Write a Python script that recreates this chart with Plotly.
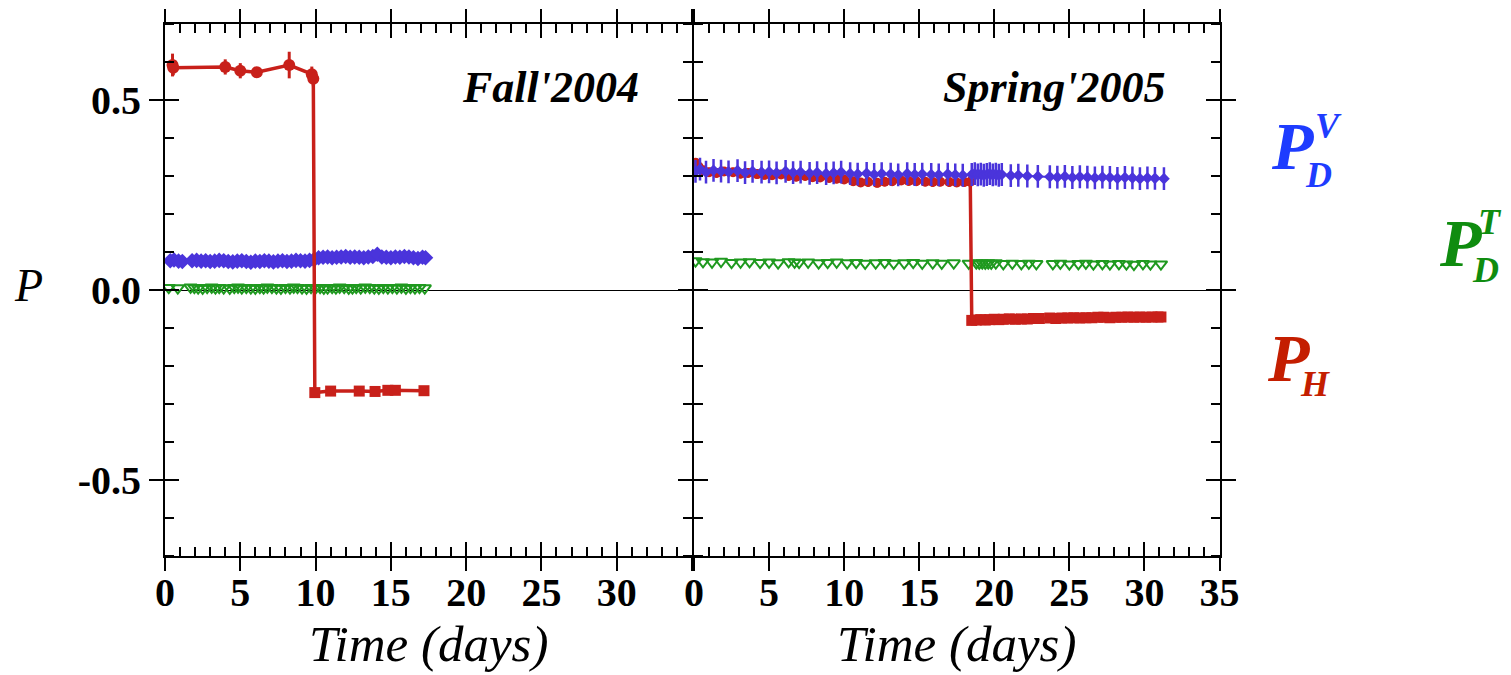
import plotly.graph_objects as go

# ---------------- data ----------------
# Fall 2004 panel
fall_ph_hi_x = [0.5, 0.55, 4.0, 5.0, 6.1, 8.25, 9.75, 9.85]
fall_ph_hi_y = [0.592, 0.585, 0.587, 0.577, 0.573, 0.592, 0.568, 0.556]
fall_ph_hi_err = [0.03, 0.02, 0.02, 0.02, 0.012, 0.035, 0.02, 0.02]
fall_ph_lo_x = [9.95, 11.0, 12.9, 13.95, 14.8, 15.3, 17.2]
fall_ph_lo_y = [-0.27, -0.266, -0.266, -0.267, -0.264, -0.264, -0.265]

fall_pdv_x = [0.35, 0.6, 0.9, 1.15,
              1.8, 2.1, 2.4, 2.7, 3.0, 3.3, 3.6, 3.9, 4.2, 4.5, 4.8, 5.1, 5.4, 5.7,
              6.0, 6.3, 6.6, 6.9, 7.2, 7.5, 7.8, 8.1, 8.4, 8.7, 9.0, 9.3, 9.6, 9.9,
              10.2, 10.5, 10.8, 11.1, 11.4, 11.7, 12.0, 12.3, 12.6, 12.9, 13.2, 13.5,
              13.8, 14.1, 14.4, 14.7, 15.0, 15.3, 15.6, 15.9, 16.2, 16.5, 16.8, 17.1,
              17.3]
fall_pdv_y = [0.077, 0.079, 0.076, 0.075,
              0.077, 0.078, 0.076, 0.077, 0.075, 0.076, 0.078, 0.077, 0.075, 0.074,
              0.076, 0.077, 0.075, 0.073, 0.076, 0.075, 0.077, 0.076, 0.074, 0.076,
              0.077, 0.075, 0.076, 0.078, 0.077, 0.076, 0.078, 0.080,
              0.085, 0.086, 0.087, 0.085, 0.086, 0.087, 0.088, 0.086, 0.087, 0.086,
              0.085, 0.087, 0.088, 0.094, 0.087, 0.086, 0.085, 0.087, 0.086, 0.088,
              0.087, 0.085, 0.083, 0.086,
              0.085]

fall_pdt_x = [0.25, 0.85, 1.7, 1.95, 2.2, 2.5, 2.8, 3.1, 3.35, 3.6, 3.9, 4.3, 4.6,
              4.85, 5.1, 5.4, 5.7, 6.0, 6.3, 6.55, 6.8, 7.1, 7.4, 7.7, 8.0, 8.3,
              8.55, 8.8, 9.1, 9.4, 9.7, 10.0, 10.3, 10.55, 10.8, 11.1, 11.35, 11.6,
              11.9, 12.2, 12.45, 12.7, 13.0, 13.3, 13.6, 13.9, 14.2, 14.5, 14.8,
              15.1, 15.4, 15.7, 16.0, 16.3, 16.6, 16.9, 17.25]
fall_pdt_y = [0.006, 0.005, 0.007, 0.006, 0.005, 0.004, 0.006, 0.007, 0.005, 0.006,
              0.005, 0.004, 0.006, 0.007, 0.005, 0.006, 0.005, 0.004, 0.006, 0.005,
              0.007, 0.006, 0.005, 0.004, 0.006, 0.005, 0.007, 0.006, 0.005, 0.004,
              0.006, 0.005, 0.006, 0.004, 0.005, 0.006, 0.005, 0.007, 0.006, 0.004,
              0.005, 0.006, 0.005, 0.007, 0.006, 0.005, 0.004, 0.006, 0.005, 0.006,
              0.005, 0.007, 0.004, 0.006, 0.005, 0.006, 0.005]

# Spring 2005 panel
spr_ph_hi_x = [0.1, 0.3, 0.6, 1.0, 1.5, 2.0, 2.6, 3.1, 3.6, 4.2, 4.7, 5.2, 5.8, 6.3,
               6.8, 7.4, 7.9, 8.4, 9.0, 9.5, 10.0, 10.6, 11.1, 11.6, 12.2, 12.7,
               13.2, 13.8, 14.3, 14.8, 15.4, 15.9, 16.4, 17.0, 17.5, 18.0, 18.4]
spr_ph_hi_y = [0.335, 0.325, 0.315, 0.31, 0.308, 0.312, 0.31, 0.306, 0.308, 0.305,
               0.303, 0.302, 0.304, 0.30, 0.298, 0.30, 0.297, 0.296, 0.295, 0.293,
               0.291, 0.286, 0.283, 0.284, 0.282, 0.285, 0.286, 0.288, 0.287, 0.286,
               0.285, 0.284, 0.285, 0.284, 0.283, 0.284, 0.285]
spr_ph_lo_x = [18.5, 18.8, 19.1, 19.4, 19.7, 20.0, 20.3, 20.6, 21.0, 21.4, 21.8, 22.2,
               22.6, 23.0, 23.7, 24.1, 24.5, 24.9, 25.3, 25.7, 26.1, 26.5, 26.9,
               27.3, 27.7, 28.1, 28.5, 28.9, 29.3, 29.7, 30.1, 30.5, 30.9, 31.1]
spr_ph_lo_y = [-0.08, -0.079, -0.078, -0.079, -0.078, -0.077, -0.078, -0.077, -0.076,
               -0.077, -0.076, -0.076, -0.075, -0.075, -0.074, -0.075, -0.074, -0.074,
               -0.073, -0.074, -0.073, -0.073, -0.072, -0.072, -0.073, -0.072, -0.072,
               -0.071, -0.072, -0.071, -0.072, -0.071, -0.071, -0.071]

spr_pdv_x = [0.1, 0.4, 0.8, 1.3, 1.8, 2.3, 2.9, 3.4, 3.9, 4.5, 5.0, 5.5, 6.1, 6.6,
             7.1, 7.7, 8.2, 8.8, 9.3, 9.8, 10.4, 10.9, 11.5, 12.0, 12.5, 13.1, 13.6,
             14.2, 14.7, 15.2, 15.8, 16.3, 16.9, 17.4, 17.9, 18.5, 18.7, 18.9, 19.1,
             19.3, 19.5, 19.7, 19.9, 20.1, 20.3, 20.5, 21.1, 21.6, 22.2, 22.9, 23.7,
             24.2, 24.7, 25.2, 25.7, 26.2, 26.7, 27.2, 27.7, 28.2, 28.7, 29.2, 29.7,
             30.2, 30.7, 31.3]
spr_pdv_y = [0.312, 0.318, 0.310, 0.315, 0.313, 0.311, 0.314, 0.309, 0.312, 0.310,
             0.311, 0.308, 0.312, 0.309, 0.310, 0.307, 0.309, 0.306, 0.308, 0.310,
             0.306, 0.305, 0.307, 0.304, 0.306, 0.305, 0.303, 0.306, 0.304, 0.305,
             0.304, 0.303, 0.305, 0.303, 0.302, 0.304, 0.306, 0.303, 0.305, 0.302,
             0.304, 0.306, 0.303, 0.305, 0.302, 0.304, 0.301, 0.302, 0.300, 0.299,
             0.298, 0.297, 0.299, 0.296, 0.298, 0.297, 0.295, 0.297, 0.296, 0.294,
             0.296, 0.295, 0.293, 0.295, 0.294, 0.293]

spr_pdt_x = [0.1, 0.6, 1.2, 1.8, 2.5, 3.1, 3.7, 4.4, 5.0, 5.6, 6.3, 6.7, 7.0, 7.6,
             8.3, 8.9, 9.5, 10.2, 10.8, 11.4, 12.1, 12.7, 13.3, 14.0, 14.6, 15.2,
             15.9, 16.5, 17.3, 18.3, 18.8, 19.0, 19.2, 19.4, 19.6, 19.8, 20.1, 20.6,
             21.2, 21.8, 22.3, 22.8, 23.9, 24.4, 25.0, 25.6, 26.1, 26.6, 27.2, 27.7,
             28.3, 28.8, 29.3, 29.9, 30.4, 31.1]
spr_pdt_y = [0.076, 0.074, 0.073, 0.075, 0.072, 0.073, 0.074, 0.072, 0.073, 0.071,
             0.074, 0.073, 0.072, 0.073, 0.071, 0.072, 0.073, 0.071, 0.072, 0.070,
             0.071, 0.072, 0.070, 0.071, 0.072, 0.070, 0.071, 0.070, 0.071, 0.070,
             0.071, 0.070, 0.071, 0.070, 0.071, 0.070, 0.071, 0.069, 0.070, 0.069,
             0.070, 0.069, 0.069, 0.070, 0.068, 0.069, 0.070, 0.068, 0.069, 0.068,
             0.069, 0.068, 0.067, 0.069, 0.068, 0.068]

x_major = [0, 5, 10, 15, 20, 25, 30, 35]
x_left_text = ["0", "5", "10", "15", "20", "25", "30", ""]
x_right_text = ["0", "5", "10", "15", "20", "25", "30", "35"]
y_major = [-0.5, 0.0, 0.5]
y_text = ["-0.5", "0.0", "0.5"]
panel_titles = ["Fall'2004", "Spring'2005"]

# ---------------- styling ----------------
W, H = 1511, 675
RED = "#c8201a"
BLUE = "#4a34db"
GREEN = "#1f991f"
SERIF = "Liberation Serif"


def px(v):
    return v / W


def py(v):
    return 1 - v / H


XL = [px(165), px(692)]
XR = [px(694), px(1219.5)]
YD = [py(556), py(24)]

fig = go.Figure()


def add_panel(xa, ya, pdt_x, pdt_y, pdv_x, pdv_y, pdv_err, pdv_size,
              hi_x, hi_y, hi_err, hi_sym, hi_size, lo_x, lo_y, lo_err, blue_on_top):
    fig.add_trace(go.Scatter(
        x=pdt_x, y=pdt_y, mode="markers", xaxis=xa, yaxis=ya,
        marker=dict(symbol="triangle-down-open", size=11, color=GREEN,
                    line=dict(width=2, color=GREEN))))

    def blue():
        fig.add_trace(go.Scatter(
            x=pdv_x, y=pdv_y, mode="lines+markers", xaxis=xa, yaxis=ya,
            line=dict(color=BLUE, width=2),
            marker=dict(symbol="diamond", size=pdv_size, color=BLUE),
            error_y=dict(type="constant", value=pdv_err, color=BLUE,
                         thickness=2.5, width=0)))

    if not blue_on_top:
        blue()
    fig.add_trace(go.Scatter(
        x=hi_x + lo_x, y=hi_y + lo_y, mode="lines", xaxis=xa, yaxis=ya,
        line=dict(color=RED, width=3.5)))
    fig.add_trace(go.Scatter(
        x=hi_x, y=hi_y, mode="markers", xaxis=xa, yaxis=ya,
        marker=dict(symbol=hi_sym, size=hi_size, color=RED),
        error_y=dict(type="data", array=hi_err, color=RED, thickness=3, width=0)))
    fig.add_trace(go.Scatter(
        x=lo_x, y=lo_y, mode="markers", xaxis=xa, yaxis=ya,
        marker=dict(symbol="square", size=11, color=RED),
        error_y=dict(type="constant", value=lo_err, color=RED, thickness=3, width=0)))
    if blue_on_top:
        blue()


add_panel("x", "y", fall_pdt_x, fall_pdt_y, fall_pdv_x, fall_pdv_y, 0.008, 12,
          fall_ph_hi_x, fall_ph_hi_y, fall_ph_hi_err, "circle", 12,
          fall_ph_lo_x, fall_ph_lo_y, 0.006, False)
add_panel("x2", "y2", spr_pdt_x, spr_pdt_y, spr_pdv_x, spr_pdv_y, 0.03, 9,
          spr_ph_hi_x, spr_ph_hi_y, [0.012] * len(spr_ph_hi_x), "circle", 10,
          spr_ph_lo_x, spr_ph_lo_y, 0.008, True)

# empty traces to activate overlay subplots (other halves of major ticks)
fig.add_trace(go.Scatter(x=[None], y=[None], xaxis="x3", yaxis="y3"))
fig.add_trace(go.Scatter(x=[None], y=[None], xaxis="x4", yaxis="y4"))

tickfont = dict(family=SERIF, size=40, color="black", weight="bold")
minor_x = dict(tickmode="linear", tick0=0, dtick=1, ticks="inside", ticklen=9,
               tickwidth=1.6, tickcolor="black")
minor_y = dict(tickmode="linear", tick0=0, dtick=0.1, ticks="inside", ticklen=9,
               tickwidth=1.6, tickcolor="black")
common = dict(showgrid=False, showline=True, linewidth=2, linecolor="black",
              ticklen=14, tickwidth=2, tickcolor="black", automargin=False,
              mirror="ticks", tickfont=tickfont)
over = dict(showgrid=False, showline=False, zeroline=False, automargin=False,
            ticklen=14, tickwidth=2, tickcolor="black", mirror="ticks",
            showticklabels=False)

fig.update_layout(
    width=W, height=H, margin=dict(l=0, r=0, t=0, b=0, autoexpand=False),
    paper_bgcolor="white", plot_bgcolor="rgba(0,0,0,0)", showlegend=False,
    # x axes carry labels with inside ticks; overlays add the outside halves
    xaxis=dict(domain=XL, range=[0, 35], anchor="y", tickmode="array",
               tickvals=x_major, ticktext=x_left_text, minor=minor_x,
               ticks="inside", zeroline=False, **common),
    xaxis2=dict(domain=XR, range=[0, 35], anchor="y2", tickmode="array",
                tickvals=x_major, ticktext=x_right_text, minor=minor_x,
                ticks="inside", zeroline=False, **common),
    # y axes carry labels with outside ticks; overlays add the inside halves
    yaxis=dict(domain=YD, range=[-0.7, 0.7], anchor="x", tickmode="array",
               tickvals=y_major, ticktext=y_text, minor=minor_y, ticks="outside",
               zeroline=True, zerolinecolor="black", zerolinewidth=1.2, **common),
    yaxis2=dict(domain=YD, range=[-0.7, 0.7], anchor="x2", tickmode="array",
                tickvals=y_major, ticktext=y_text, minor=minor_y, ticks="outside",
                showticklabels=False,
                zeroline=True, zerolinecolor="black", zerolinewidth=1.2, **common),
    xaxis3=dict(domain=XL, range=[0, 35], anchor="y3", overlaying="x",
                tickmode="array", tickvals=x_major, ticks="outside", **over),
    yaxis3=dict(domain=YD, range=[-0.7, 0.7], anchor="x3", overlaying="y",
                tickmode="array", tickvals=y_major, ticks="inside", **over),
    xaxis4=dict(domain=XR, range=[0, 35], anchor="y4", overlaying="x2",
                tickmode="array", tickvals=x_major, ticks="outside", **over),
    yaxis4=dict(domain=YD, range=[-0.7, 0.7], anchor="x4", overlaying="y2",
                tickmode="array", tickvals=y_major, ticks="inside", **over),
)

ann = []
title_font = dict(family=SERIF, size=51, color="black", style="italic")
ann.append(dict(text="Time (days)", x=px(428.5), y=py(644), xref="paper", yref="paper",
                xanchor="center", yanchor="middle", showarrow=False, font=title_font))
ann.append(dict(text="Time (days)", x=px(956), y=py(644), xref="paper", yref="paper",
                xanchor="center", yanchor="middle", showarrow=False, font=title_font))
ann.append(dict(text="P", x=px(28), y=py(285), xref="paper", yref="paper",
                xanchor="center", yanchor="middle", showarrow=False,
                font=dict(family=SERIF, size=46, color="black", style="italic")))
pfont = dict(family=SERIF, size=44, color="black", style="italic", weight="bold")
ann.append(dict(text=panel_titles[0], x=px(641), y=py(88), xref="paper", yref="paper",
                xanchor="right", yanchor="middle", showarrow=False, font=pfont))
ann.append(dict(text=panel_titles[1], x=px(1168), y=py(88), xref="paper", yref="paper",
                xanchor="right", yanchor="middle", showarrow=False, font=pfont))


def lab(text, x, y, size, color):
    ann.append(dict(text=text, x=px(x), y=py(y), xref="paper", yref="paper",
                    xanchor="center", yanchor="middle", showarrow=False,
                    font=dict(family=SERIF, size=size, color=color,
                              style="italic", weight="bold")))


LBLUE, LGREEN, LRED = "#1e3cff", "#0f8c0f", "#c41e00"
lab("P", 1292, 146, 68, LBLUE)
lab("D", 1318, 175, 36, LBLUE)
lab("V", 1328, 126, 36, LBLUE)
lab("P", 1460, 243, 68, LGREEN)
lab("D", 1485, 270, 36, LGREEN)
lab("T", 1490, 222, 36, LGREEN)
lab("P", 1288, 358, 68, LRED)
lab("H", 1315, 384, 36, LRED)

fig.update_layout(annotations=ann)
fig.write_html("out.html")
